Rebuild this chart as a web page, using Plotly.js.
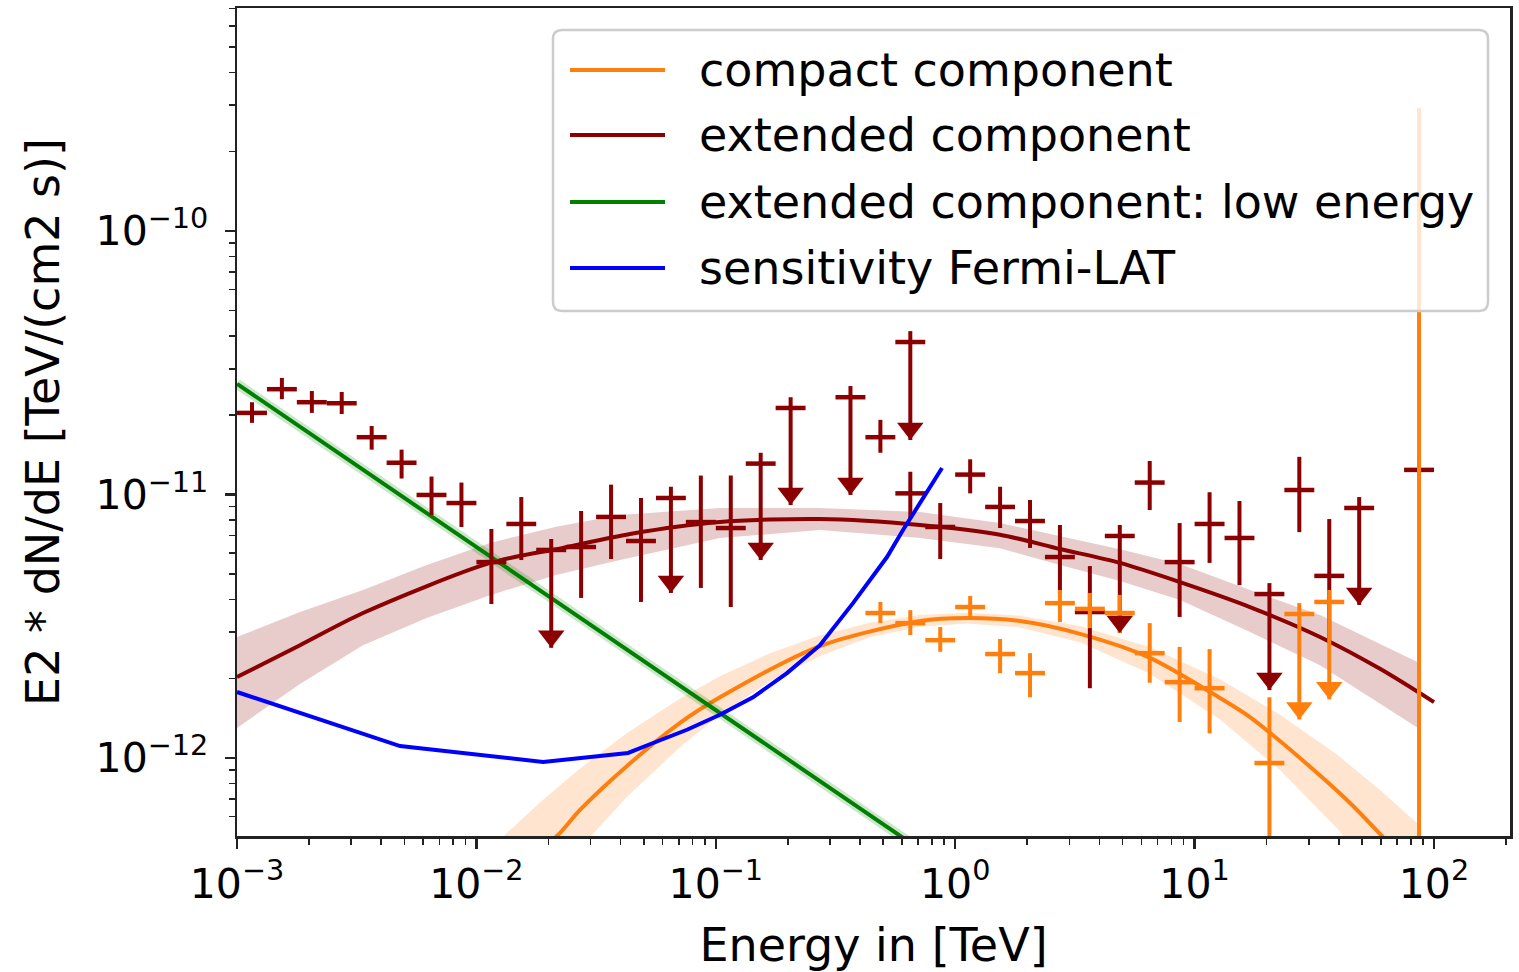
<!DOCTYPE html>
<html><head><meta charset="utf-8">
<script src="https://cdn.plot.ly/plotly-3.0.1.min.js"></script>
<style>html,body{margin:0;padding:0;background:#fff;} #chart{width:1519px;height:972px;}</style>
</head><body><div id="chart"></div>
<script>
// ---------------- data ----------------
// extended component flux points
const ext_e = [1.155e-3,1.540e-3,2.054e-3,2.738e-3,3.652e-3,4.870e-3,6.494e-3,8.660e-3,1.155e-2,1.540e-2,2.054e-2,2.738e-2,3.652e-2,4.870e-2,6.494e-2,8.660e-2,0.1155,0.1540,0.2054,0.3652,0.4870,0.6494,0.6494,0.8660,1.155,1.540,2.054,2.738,3.652,4.870,6.494,8.660,11.55,15.40,20.54,27.38,36.52,48.70,86.60];
const ext_emin = [1.000e-3,1.334e-3,1.778e-3,2.371e-3,3.162e-3,4.217e-3,5.623e-3,7.499e-3,1.000e-2,1.334e-2,1.778e-2,2.371e-2,3.162e-2,4.217e-2,5.623e-2,7.499e-2,0.1000,0.1334,0.1778,0.3162,0.4217,0.5623,0.5623,0.7499,1.000,1.334,1.778,2.371,3.162,4.217,5.623,7.499,10.00,13.34,17.78,23.71,31.62,42.17,74.99];
const ext_emax = [1.334e-3,1.778e-3,2.371e-3,3.162e-3,4.217e-3,5.623e-3,7.499e-3,1.000e-2,1.334e-2,1.778e-2,2.371e-2,3.162e-2,4.217e-2,5.623e-2,7.499e-2,0.1000,0.1334,0.1778,0.2371,0.4217,0.5623,0.7499,0.7499,1.000,1.334,1.778,2.371,3.162,4.217,5.623,7.499,10.00,13.34,17.78,23.71,31.62,42.17,56.23,100.0];
const ext_flux = [2.04e-11,2.51e-11,2.24e-11,2.22e-11,1.65e-11,1.32e-11,9.96e-12,9.28e-12,5.54e-12,7.73e-12,6.16e-12,6.32e-12,8.22e-12,6.66e-12,9.70e-12,7.86e-12,7.46e-12,1.31e-11,2.13e-11,2.34e-11,1.65e-11,3.79e-11,1.01e-11,7.53e-12,1.19e-11,8.97e-12,7.93e-12,5.79e-12,3.58e-12,6.96e-12,1.11e-11,5.54e-12,7.73e-12,6.84e-12,4.19e-12,1.04e-11,4.91e-12,8.89e-12,1.24e-11];
const ext_flux_lo = [1.87e-11,2.30e-11,2.04e-11,2.02e-11,1.48e-11,1.15e-11,8.36e-12,7.53e-12,3.84e-12,5.64e-12,2.62e-12,4.05e-12,5.69e-12,3.91e-12,4.23e-12,4.42e-12,3.74e-12,5.64e-12,9.12e-12,9.96e-12,1.44e-11,1.61e-11,8.14e-12,5.69e-12,1.01e-11,7.46e-12,6.27e-12,4.23e-12,1.84e-12,2.98e-12,8.73e-12,3.43e-12,5.50e-12,4.53e-12,1.81e-12,7.20e-12,2.80e-12,3.81e-12,1.14e-11];
const ext_flux_hi = [2.24e-11,2.77e-11,2.47e-11,2.45e-11,1.82e-11,1.48e-11,1.17e-11,1.11e-11,7.40e-12,9.78e-12,6.78e-12,8.66e-12,1.09e-11,9.70e-12,1.07e-11,1.18e-11,1.18e-11,1.44e-11,2.34e-11,2.58e-11,1.92e-11,4.17e-11,1.22e-11,9.28e-12,1.36e-11,1.07e-11,9.53e-12,7.66e-12,5.35e-12,7.66e-12,1.34e-11,7.79e-12,1.02e-11,9.45e-12,4.61e-12,1.39e-11,8.07e-12,9.78e-12,1.38e-11];
const ext_ul = [0,0,0,0,0,0,0,0,0,0,1,0,0,0,1,0,0,1,1,1,0,1,0,0,0,0,0,0,0,1,0,0,0,0,1,0,0,1,0];

// compact component flux points
const cmp_e = [0.4870,0.6494,0.8660,1.155,1.540,2.054,2.738,3.652,4.870,6.494,8.660,11.55,20.54,27.38,36.52,86.60];
const cmp_emin = [0.4217,0.5623,0.7499,1.000,1.334,1.778,2.371,3.162,4.217,5.623,7.499,10.00,17.78,23.71,31.62,74.99];
const cmp_emax = [0.5623,0.7499,1.000,1.334,1.778,2.371,3.162,4.217,5.623,7.499,10.00,13.34,23.71,31.62,42.17,100.0];
const cmp_flux = [3.55e-12,3.25e-12,2.80e-12,3.74e-12,2.48e-12,2.10e-12,3.87e-12,3.68e-12,3.55e-12,2.50e-12,1.94e-12,1.84e-12,9.57e-13,3.52e-12,3.91e-12,3.0e-13];
const cmp_flux_lo = [3.25e-12,2.93e-12,2.53e-12,3.46e-12,2.10e-12,1.70e-12,3.28e-12,3.11e-12,2.98e-12,1.93e-12,1.37e-12,1.24e-12,1.0e-14,1.40e-12,1.67e-12,3.0e-13];
const cmp_flux_hi = [3.91e-12,3.64e-12,3.14e-12,4.12e-12,2.83e-12,2.50e-12,4.34e-12,4.23e-12,4.16e-12,3.25e-12,2.64e-12,2.59e-12,1.70e-12,3.87e-12,4.34e-12,2.93e-10];
const cmp_ul = [0,0,0,0,0,0,0,0,0,0,0,0,0,1,1,0];

// model curves
const ext_model_e = [1.0e-3,1.833e-3,3.36e-3,1.14e-2,2.30e-2,4.38e-2,0.1041,0.2724,0.7128,1.538,2.741,4.88,8.69,17.03,33.4,59.5,100];
const ext_model_f = [2.03e-12,2.68e-12,3.55e-12,5.50e-12,6.27e-12,7.08e-12,7.86e-12,8.07e-12,7.66e-12,7.04e-12,6.21e-12,5.50e-12,4.65e-12,3.74e-12,2.88e-12,2.18e-12,1.63e-12];
const ext_band_e = [1.0e-3,1.833e-3,3.36e-3,6.2e-3,1.14e-2,2.15e-2,3.98e-2,0.1041,0.2724,0.7128,1.538,2.741,4.88,8.69,17.03,33.4,85.7];
const ext_band_hi = [2.88e-12,3.58e-12,4.34e-12,5.40e-12,6.54e-12,7.55e-12,8.36e-12,8.89e-12,8.89e-12,8.58e-12,7.80e-12,6.95e-12,6.20e-12,5.45e-12,4.34e-12,3.49e-12,2.31e-12];
const ext_band_lo = [1.30e-12,1.91e-12,2.68e-12,3.40e-12,4.15e-12,4.95e-12,5.64e-12,6.84e-12,7.33e-12,6.84e-12,6.25e-12,5.40e-12,4.70e-12,3.98e-12,3.01e-12,2.25e-12,1.30e-12];

const cmp_model_e = [1.843e-2,2.193e-2,2.709e-2,4.257e-2,7.09e-2,0.1041,0.2724,0.7128,1.12,1.865,3.32,6.51,12.76,17.03,27.55,44.6,61.2,72.1];
const cmp_model_f = [4.48e-13,5.10e-13,6.35e-13,9.33e-13,1.36e-12,1.70e-12,2.66e-12,3.31e-12,3.40e-12,3.31e-12,2.96e-12,2.40e-12,1.69e-12,1.43e-12,1.00e-12,6.75e-13,5.01e-13,4.28e-13];
const cmp_band_e = [1.035e-2,1.342e-2,1.843e-2,2.709e-2,4.257e-2,7.09e-2,0.1041,0.1684,0.2724,0.4406,0.7128,1.12,1.865,3.32,6.51,12.76,22.74,39.33,61.2,85.7];
const cmp_band_hi = [4.12e-13,5.20e-13,6.78e-13,9.12e-13,1.244e-12,1.682e-12,2.042e-12,2.50e-12,2.92e-12,3.26e-12,3.49e-12,3.56e-12,3.47e-12,3.17e-12,2.63e-12,1.99e-12,1.46e-12,1.03e-12,7.40e-13,5.62e-13];
const cmp_band_lo = [1.45e-13,2.03e-13,2.97e-13,4.55e-13,7.13e-13,1.10e-12,1.46e-12,1.95e-12,2.44e-12,2.87e-12,3.15e-12,3.24e-12,3.13e-12,2.75e-12,2.09e-12,1.40e-12,9.00e-13,5.41e-13,3.37e-13,2.26e-13];

const low_e = [1e-3,1e-2,0.1,1];
const low_f = [2.63e-11,6.32e-12,1.52e-12,3.65e-13];

const sens_e = [1.0e-3,4.80e-3,1.90e-2,4.30e-2,5.47e-2,7.58e-2,0.1041,0.1430,0.1983,0.2724,0.3742,0.5189,0.6053,0.881];
const sens_f = [1.78e-12,1.11e-12,9.66e-13,1.045e-12,1.14e-12,1.28e-12,1.46e-12,1.70e-12,2.10e-12,2.68e-12,3.87e-12,5.79e-12,7.33e-12,1.26e-11];

const legend_labels = ['compact component','extended component','extended component: low energy','sensitivity Fermi-LAT'];
const x_tick_vals = [1e-3,1e-2,1e-1,1e0,1e1,1e2];
const x_tick_text = ['10<sup>\u22123</sup>','10<sup>\u22122</sup>','10<sup>\u22121</sup>','10<sup>0</sup>','10<sup>1</sup>','10<sup>2</sup>'];
const y_tick_vals = [1e-12,1e-11,1e-10];
const y_tick_text = ['10<sup>\u221212</sup>','10<sup>\u221211</sup>','10<sup>\u221210</sup>'];

// ---------------- styles ----------------
const C_EXT = '#8b0000', C_CMP = '#ff7f0e', C_LOW = '#008000', C_SENS = '#0000ff';
const FONT = 'DejaVu Sans';
const X_RANGE = [-3, 2.3175], Y_RANGE = [-12.296, -9.1537];
const ARROW_SIZE = 23;
// pixel geometry of plot area (used for legend placement / arrow offset)
const PL = 237, PR = 1510, PT = 8, PB = 836;
const pxPerDecY = (PB - PT) / (Y_RANGE[1] - Y_RANGE[0]);
const arrowLift = Math.pow(10, (ARROW_SIZE / 2) / pxPerDecY);

function band(e, hi, lo, color, name) {
  return {x: e.concat(e.slice().reverse()), y: hi.concat(lo.slice().reverse()),
    type: 'scatter', mode: 'lines', fill: 'toself', fillcolor: color,
    line: {width: 0}, hoverinfo: 'skip', showlegend: false, name: name};
}
function points(e, emin, emax, f, flo, fhi, color, name) {
  return {x: e, y: f, type: 'scatter', mode: 'markers', name: name, showlegend: false,
    marker: {size: 1, color: 'rgba(0,0,0,0)'},
    error_x: {type: 'data', symmetric: false, array: e.map((v,i)=>emax[i]-v), arrayminus: e.map((v,i)=>v-emin[i]), thickness: 4.5, width: 0, color: color},
    error_y: {type: 'data', symmetric: false, array: f.map((v,i)=>fhi[i]-v), arrayminus: f.map((v,i)=>v-flo[i]), thickness: 4, width: 0, color: color}
  };
}
function arrows(e, flo, ul, color, name) {
  const xs = [], ys = [];
  ul.forEach((u,i)=>{ if (u) { xs.push(e[i]); ys.push(flo[i]*arrowLift); } });
  return {x: xs, y: ys, type: 'scatter', mode: 'markers', name: name, showlegend: false, hoverinfo: 'skip',
    marker: {symbol: 'triangle-down', size: ARROW_SIZE, color: color, line: {width: 0}}};
}

const traces = [
  band(cmp_band_e, cmp_band_hi, cmp_band_lo, 'rgba(255,127,14,0.2)', 'compact band'),
  band(ext_band_e, ext_band_hi, ext_band_lo, 'rgba(139,0,0,0.2)', 'extended band'),
  {x: cmp_model_e, y: cmp_model_f, type: 'scatter', mode: 'lines', name: legend_labels[0], line: {color: C_CMP, width: 4, shape: 'spline', smoothing: 0.8}},
  {x: ext_model_e, y: ext_model_f, type: 'scatter', mode: 'lines', name: legend_labels[1], line: {color: C_EXT, width: 4, shape: 'spline', smoothing: 0.8}},
  {x: low_e, y: low_f, type: 'scatter', mode: 'lines', name: 'low energy band', showlegend: false, hoverinfo: 'skip', line: {color: 'rgba(0,128,0,0.2)', width: 10}},
  {x: low_e, y: low_f, type: 'scatter', mode: 'lines', name: legend_labels[2], line: {color: C_LOW, width: 4}},
  points(ext_e, ext_emin, ext_emax, ext_flux, ext_flux_lo, ext_flux_hi, C_EXT, 'extended flux points'),
  points(cmp_e, cmp_emin, cmp_emax, cmp_flux, cmp_flux_lo, cmp_flux_hi, C_CMP, 'compact flux points'),
  arrows(ext_e, ext_flux_lo, ext_ul, C_EXT, 'extended upper limits'),
  arrows(cmp_e, cmp_flux_lo, cmp_ul, C_CMP, 'compact upper limits'),
  {x: sens_e, y: sens_f, type: 'scatter', mode: 'lines', name: legend_labels[3], line: {color: C_SENS, width: 4}}
];

// minor tick positions
const xminor = [], yminor = [];
for (let n = -3; n <= 2; n++) for (let m = 2; m <= 9; m++) { const v = m*Math.pow(10,n); if (Math.log10(v) < X_RANGE[1]) xminor.push(v); }
for (let n = -13; n <= -10; n++) for (let m = 2; m <= 9; m++) { const v = m*Math.pow(10,n); const l = Math.log10(v); if (l > Y_RANGE[0] && l < Y_RANGE[1]) yminor.push(v); }

// manual legend (matplotlib style)
const W = PR - PL, H = PB - PT;
const px2x = p => (p - PL) / W, px2y = p => (PB - p) / H;
const lg = {x0: 553, y0: 30, x1: 1488, y1: 311, r: 9};
const xl = px2x(lg.x0), xr = px2x(lg.x1), yt = px2y(lg.y0), yb = px2y(lg.y1);
const rx = lg.r / W, ry = lg.r / H;
const legendPath = `M ${xl+rx},${yt} L ${xr-rx},${yt} Q ${xr},${yt} ${xr},${yt-ry} L ${xr},${yb+ry} Q ${xr},${yb} ${xr-rx},${yb} L ${xl+rx},${yb} Q ${xl},${yb} ${xl},${yb+ry} L ${xl},${yt-ry} Q ${xl},${yt} ${xl+rx},${yt} Z`;
const legendColors = [C_CMP, C_EXT, C_LOW, C_SENS];
const rowY = [70, 135, 202, 268];
const shapes = [{type: 'path', xref: 'paper', yref: 'paper', path: legendPath, fillcolor: 'rgba(255,255,255,0.8)', line: {color: '#cccccc', width: 2.5}, layer: 'above'}];
const annotations = [];
for (let i = 0; i < legend_labels.length; i++) {
  shapes.push({type: 'line', xref: 'paper', yref: 'paper', x0: px2x(570), x1: px2x(665), y0: px2y(rowY[i]), y1: px2y(rowY[i]), line: {color: legendColors[i], width: 4}, layer: 'above'});
  annotations.push({xref: 'paper', yref: 'paper', x: px2x(697), y: px2y(rowY[i]), xanchor: 'left', yanchor: 'middle', showarrow: false, text: legend_labels[i], font: {family: FONT, size: 46, color: '#000'}});
}

const axisCommon = {type: 'log', showgrid: false, zeroline: false, showline: true, linecolor: '#222', linewidth: 2.5, mirror: true,
  ticks: 'outside', ticklen: 10, tickwidth: 2.2, tickcolor: '#222', tickmode: 'array',
  tickfont: {family: FONT, size: 41, color: '#000'}};

const layout = {
  width: 1519, height: 972,
  margin: {l: PL, r: 1519 - PR, t: PT, b: 972 - PB, pad: 0},
  paper_bgcolor: '#ffffff', plot_bgcolor: '#ffffff', showlegend: false,
  font: {family: FONT, color: '#000'},
  xaxis: Object.assign({}, axisCommon, {range: X_RANGE, tickvals: x_tick_vals, ticktext: x_tick_text,
    minor: {tickmode: 'array', tickvals: xminor, ticks: 'outside', ticklen: 6, tickwidth: 1.6, tickcolor: '#222', showgrid: false},
    title: {text: 'Energy in [TeV]', font: {family: FONT, size: 46, color: '#000'}, standoff: 22}}),
  yaxis: Object.assign({}, axisCommon, {range: Y_RANGE, tickvals: y_tick_vals, ticktext: y_tick_text, ticklabelstandoff: 8,
    minor: {tickmode: 'array', tickvals: yminor, ticks: 'outside', ticklen: 6, tickwidth: 1.6, tickcolor: '#222', showgrid: false},
    title: {text: 'E2 * dN/dE [TeV/(cm2 s)]', font: {family: FONT, size: 46, color: '#000'}, standoff: 22}}),
  shapes: shapes, annotations: annotations
};

Plotly.newPlot('chart', traces, layout, {displayModeBar: false, staticPlot: true});
</script>
</body></html>
